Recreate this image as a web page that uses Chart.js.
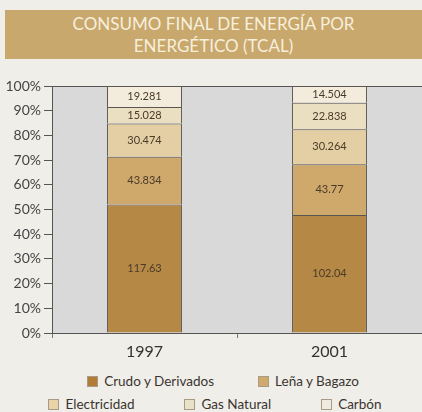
<!DOCTYPE html>
<html>
<head>
<meta charset="utf-8">
<script src="https://cdn.jsdelivr.net/npm/chart.js@4.4.0/dist/chart.umd.min.js"></script>
<style>
  html, body { margin: 0; padding: 0; }
  body { width: 422px; height: 412px; overflow: hidden; background: #f0eee9; position: relative; font-family: Lato, "Open Sans", sans-serif; }
  .title { position: absolute; left: 5px; top: 10px; width: 417px; height: 49px; background: #c8a86c; color: #f7efdc; text-align: center; font-size: 17px; line-height: 22px; padding-top: 3px; box-sizing: border-box; }
  .wrap { position: absolute; left: 0; top: 60px; width: 422px; height: 310px; }
  .legend { position: absolute; left: 0; width: 422px; display: flex; justify-content: center; font-size: 13.5px; color: #3a3530; }
  .legend .it { display: flex; align-items: center; }
  .legend .bx { width: 11px; height: 11px; border: 1px solid #a89a85; box-sizing: border-box; margin-right: 6px; }
</style>
</head>
<body>
<div class="title">CONSUMO FINAL DE ENERGÍA POR<br>ENERGÉTICO (TCAL)</div>
<div class="wrap"><canvas id="c"></canvas></div>
<div class="legend" id="lg1" style="top:373px; gap:44px; left:12px"></div>
<div class="legend" id="lg2" style="top:396px; gap:50px; left:4px"></div>
<script>
// años
const years = ['1997', '2001'];
// TCal por energético
const crudo = [117.63, 102.04];
const lena = [43.834, 43.77];
const electricidad = [30.474, 30.264];
const gasNatural = [15.028, 22.838];
const carbon = [19.281, 14.504];
const seriesNames = ['Crudo y Derivados', 'Leña y Bagazo', 'Electricidad', 'Gas Natural', 'Carbón'];
const seriesColors = ['#b58846', '#cfa96c', '#e4cfa4', '#ebdfc2', '#f3ecdc'];
const legendBoxColors = ['#b27c37', '#d2a96c', '#e8d4a8', '#e9e2c9', '#efebe0'];

const series = [crudo, lena, electricidad, gasNatural, carbon];
const totals = years.map((_, i) => series.reduce((a, s) => a + s[i], 0));

const plotBg = {
  id: 'plotBg',
  beforeDraw(chart) {
    const { ctx, chartArea: a } = chart;
    ctx.save();
    ctx.fillStyle = '#d9d9d9';
    ctx.fillRect(a.left, a.top, a.right - a.left, a.bottom - a.top);
    ctx.strokeStyle = '#555';
    ctx.lineWidth = 1;
    ctx.beginPath();
    ctx.moveTo(a.left, a.top + 0.5);
    ctx.lineTo(a.right, a.top + 0.5);
    ctx.stroke();
    ctx.restore();
  },
};

const segLabels = {
  id: 'segLabels',
  afterDatasetsDraw(chart) {
    const { ctx } = chart;
    ctx.save();
    ctx.font = '11px Lato, sans-serif';
    ctx.fillStyle = '#4a3b27';
    ctx.textAlign = 'center';
    ctx.textBaseline = 'middle';
    chart.data.datasets.forEach((ds, di) => {
      chart.getDatasetMeta(di).data.forEach((bar, i) => {
        ctx.fillText(String(ds.raw[i]), bar.x, (bar.y + bar.base) / 2);
      });
    });
    ctx.restore();
  },
};

new Chart(document.getElementById('c'), {
  type: 'bar',
  data: {
    labels: years,
    datasets: series.map((s, k) => ({
      label: seriesNames[k],
      raw: s,
      data: s.map((v, i) => (v / totals[i]) * 100),
      backgroundColor: seriesColors[k],
      borderColor: '#5a5651',
      borderWidth: { top: 1, left: 1, right: 1, bottom: 0 },
      borderSkipped: false,
      categoryPercentage: 1,
      barPercentage: 0.405,
    })),
  },
  options: {
    responsive: true,
    maintainAspectRatio: false,
    animation: false,
    layout: { padding: { top: 26, right: 0, left: 0, bottom: 0 } },
    plugins: { legend: { display: false }, tooltip: { enabled: false } },
    scales: {
      x: {
        stacked: true,
        afterFit: (s) => { s.height = 37; },
        border: { color: '#555', width: 1 },
        grid: { offset: true, drawOnChartArea: false, drawTicks: true, tickLength: 5, color: '#777' },
        ticks: { color: '#333', font: { family: 'Lato', size: 16 }, padding: 4 },
      },
      y: {
        stacked: true,
        min: 0,
        max: 100,
        afterFit: (s) => { s.width = 52; },
        border: { color: '#555', width: 1 },
        grid: { drawOnChartArea: false, drawTicks: true, tickLength: 8, color: '#555' },
        ticks: { stepSize: 10, color: '#444', font: { family: 'Lato', size: 14 }, padding: 3, callback: (v) => v + '%' },
      },
    },
  },
  plugins: [plotBg, segLabels],
});

function legendItem(k) {
  return `<div class="it"><div class="bx" style="background:${legendBoxColors[k]}"></div>${seriesNames[k]}</div>`;
}
document.getElementById('lg1').innerHTML = [0, 1].map(legendItem).join('');
document.getElementById('lg2').innerHTML = [2, 3, 4].map(legendItem).join('');
</script>
</body>
</html>
